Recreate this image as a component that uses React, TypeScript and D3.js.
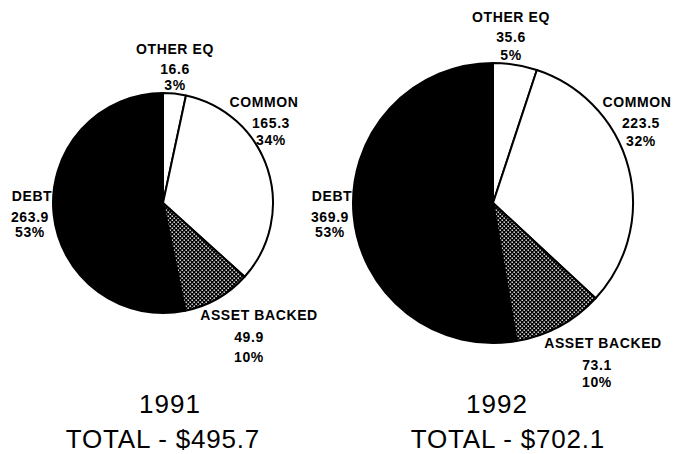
import React, { useRef, useEffect } from "react";
import * as d3 from "d3";

// chart data
const categories = ["OTHER EQ", "COMMON", "ASSET BACKED", "DEBT"];
const years = ["1991", "1992"];
const values1991 = [16.6, 165.3, 49.9, 263.9];
const values1992 = [35.6, 223.5, 73.1, 369.9];
const percents1991 = ["3%", "34%", "10%", "53%"];
const percents1992 = ["5%", "32%", "10%", "53%"];
const totals = ["$495.7", "$702.1"];

const fills = ["#fff", "#fff", "url(#dots)", "#000"];

// layout per pie: center, radius, label anchors (x, baseline, number x, line gaps)
const layouts = [
  {
    cx: 163, cy: 203, r: 110,
    labels: [
      { x: 175, y: 54, nx: 175, gaps: [20, 16] },
      { x: 264, y: 107, nx: 271, gaps: [21, 17] },
      { x: 259, y: 320, nx: 249, gaps: [22, 20] },
      { x: 32, y: 201, nx: 30, gaps: [21, 15] },
    ],
    yearX: 170, totalX: 163,
  },
  {
    cx: 493, cy: 203, r: 140,
    labels: [
      { x: 511, y: 22, nx: 511, gaps: [20, 18] },
      { x: 637, y: 107, nx: 641, gaps: [21, 18] },
      { x: 603, y: 348, nx: 597, gaps: [22, 17] },
      { x: 332, y: 201, nx: 330, gaps: [21, 15] },
    ],
    yearX: 497, totalX: 508,
  },
];

export default function App() {
  const svgRef = useRef<SVGSVGElement>(null);

  useEffect(() => {
    const svg = d3.select(svgRef.current);
    svg.selectAll("*").remove();

    // dotted fill for asset backed
    const pat = svg.append("defs").append("pattern")
      .attr("id", "dots")
      .attr("width", 4).attr("height", 4)
      .attr("patternUnits", "userSpaceOnUse");
    pat.append("rect").attr("width", 4).attr("height", 4).attr("fill", "#000");
    pat.append("rect").attr("x", 0.5).attr("y", 0.5).attr("width", 1.4).attr("height", 1.4).attr("fill", "#fff");
    pat.append("rect").attr("x", 2.5).attr("y", 2.5).attr("width", 1.4).attr("height", 1.4).attr("fill", "#fff");

    const pie = d3.pie<number>().sort(null).value(d => d);
    const allValues = [values1991, values1992];
    const allPercents = [percents1991, percents1992];

    allValues.forEach((vals, i) => {
      const L = layouts[i];

      // slice labels (drawn first so the pie covers the edge of DEBT)
      categories.forEach((c, j) => {
        const lb = L.labels[j];
        const t = svg.append("g")
          .attr("font-family", "Liberation Sans, Arial, sans-serif")
          .attr("font-weight", "bold")
          .attr("font-size", 14)
          .attr("letter-spacing", 0.6)
          .attr("text-anchor", "middle")
          .attr("fill", "#000");
        t.append("text").attr("x", lb.x).attr("y", lb.y).text(c);
        t.append("text").attr("x", lb.nx).attr("y", lb.y + lb.gaps[0])
          .text(d3.format(".1f")(vals[j]));
        t.append("text").attr("x", lb.nx).attr("y", lb.y + lb.gaps[0] + lb.gaps[1])
          .text(allPercents[i][j]);
      });

      const arc = d3.arc<d3.PieArcDatum<number>>().innerRadius(0).outerRadius(L.r);
      const g = svg.append("g").attr("transform", `translate(${L.cx},${L.cy})`);

      g.selectAll("path")
        .data(pie(vals))
        .enter()
        .append("path")
        .attr("d", arc)
        .attr("fill", (d, j) => fills[j])
        .attr("stroke", "#000")
        .attr("stroke-width", 2)
        .attr("stroke-linejoin", "round");

      // year + total
      const f = svg.append("g")
        .attr("font-family", "Liberation Sans, Arial, sans-serif")
        .attr("font-size", 26)
        .attr("text-anchor", "middle")
        .attr("fill", "#000");
      f.append("text").attr("x", L.yearX).attr("y", 413).attr("letter-spacing", 1).text(years[i]);
      f.append("text").attr("x", L.totalX).attr("y", 448).attr("letter-spacing", 0.8).text(`TOTAL - ${totals[i]}`);
    });
  }, []);

  return (
    <svg ref={svgRef} width={677} height={454}
      style={{ position: "absolute", left: 0, top: 0, background: "#fff" }} />
  );
}
